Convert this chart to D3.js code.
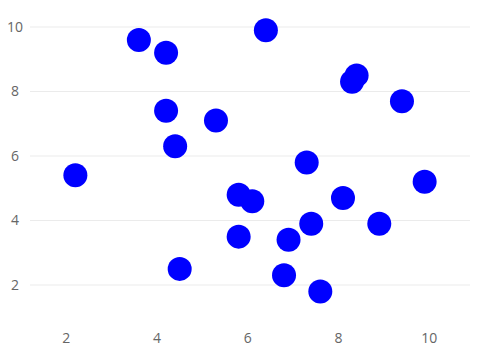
<!DOCTYPE html>
<html>
<head>
<meta charset="utf-8">
<script src="https://cdn.jsdelivr.net/npm/d3@7"></script>
<style>
  body { margin: 0; background: #fff; }
  svg text { font-family: "Open Sans", sans-serif; font-size: 14px; fill: #666; }
</style>
</head>
<body>
<svg id="chart" width="481" height="359"></svg>
<script>
// data
const xValues = [2.2, 3.6, 4.2, 4.2, 4.4, 5.3, 6.4, 5.8, 6.1, 5.8, 4.5, 7.3, 6.9, 7.4, 6.8, 7.6, 8.1, 8.9, 8.3, 8.4, 9.4, 9.9];
const yValues = [5.4, 9.6, 9.2, 7.4, 6.3, 7.1, 9.9, 4.8, 4.6, 3.5, 2.5, 5.8, 3.4, 3.9, 2.3, 1.8, 4.7, 3.9, 8.3, 8.5, 7.7, 5.2];
const xTicks = [2, 4, 6, 8, 10];
const yTicks = [2, 4, 6, 8, 10];

const svg = d3.select('#chart');

const x = d3.scaleLinear()
    .domain([1.2, 10.9])
    .range([30, 470]);

// 2 -> 285, 10 -> 27
const y = d3.scaleLinear()
    .domain([2, 10])
    .range([285, 27]);

const points = xValues.map((v, i) => ({ x: v, y: yValues[i] }));

// horizontal grid
svg.append('g')
    .selectAll('line')
    .data(yTicks)
    .enter()
    .append('line')
    .attr('x1', x.range()[0])
    .attr('x2', x.range()[1])
    .attr('y1', d => y(d))
    .attr('y2', d => y(d))
    .attr('stroke', '#ebebeb')
    .attr('stroke-width', 1);

// y labels
svg.append('g')
    .selectAll('text')
    .data(yTicks)
    .enter()
    .append('text')
    .attr('x', 15)
    .attr('y', d => y(d))
    .attr('dy', '0.35em')
    .attr('text-anchor', 'middle')
    .text(d => d);

// x labels
svg.append('g')
    .selectAll('text')
    .data(xTicks)
    .enter()
    .append('text')
    .attr('x', d => x(d))
    .attr('y', 338)
    .attr('dy', '0.35em')
    .attr('text-anchor', 'middle')
    .text(d => d);

// points
svg.append('g')
    .selectAll('circle')
    .data(points)
    .enter()
    .append('circle')
    .attr('cx', d => x(d.x))
    .attr('cy', d => y(d.y))
    .attr('r', 12)
    .attr('fill', '#0000ff');
</script>
</body>
</html>
